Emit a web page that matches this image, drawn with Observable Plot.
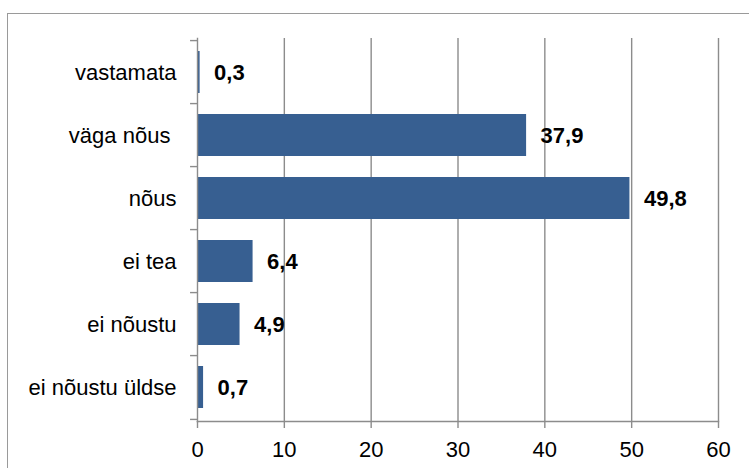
<!DOCTYPE html>
<html><head><meta charset="utf-8">
<script src="https://cdn.jsdelivr.net/npm/d3@7"></script>
<script src="https://cdn.jsdelivr.net/npm/@observablehq/plot@0.6"></script>
<style>
html,body{margin:0;padding:0;background:#fff;}
#wrap{position:relative;width:749px;height:468px;overflow:hidden;}
#chart{position:absolute;left:0;top:0;}
#border{position:absolute;left:7px;top:13px;width:800px;height:500px;border:1.5px solid #9a9a9a;box-sizing:border-box;pointer-events:none;z-index:2;}
</style></head><body>
<div id="wrap"><div id="chart"></div><div id="border"></div></div>
<script>
const categories = ["vastamata", "väga nõus\u00a0", "nõus", "ei tea", "ei nõustu", "ei nõustu üldse"];
const values = [0.3, 37.9, 49.8, 6.4, 4.9, 0.7];
const valueLabels = ["0,3", "37,9", "49,8", "6,4", "4,9", "0,7"];
const xTicks = [0, 10, 20, 30, 40, 50, 60];

const data = categories.map((c, i) => ({category: c, value: values[i], label: valueLabels[i]}));

const W = 749, H = 468, mL = 197, mR = 31, mT = 38, mB = 47;
const step = (H - mT - mB) / categories.length;
const grey = "#8c8c8c";
const FS = 22;

const chart = Plot.plot({
  width: W, height: H,
  marginLeft: mL, marginRight: mR, marginTop: mT, marginBottom: mB,
  style: {fontFamily: "'Liberation Sans', Arial, sans-serif", fontSize: FS + "px", color: "#000", background: "transparent", overflow: "visible"},
  x: {domain: [0, 60]},
  y: {domain: categories, paddingInner: 0.34, paddingOuter: 0.17},
  marks: [
    Plot.gridX(xTicks.slice(1), {stroke: grey, strokeOpacity: 1, strokeWidth: 1.4}),
    Plot.barX(data, {x: "value", y: "category", fill: "#375F91"}),
    Plot.frame({anchor: "left", stroke: grey, strokeWidth: 1.4}),
    Plot.frame({anchor: "bottom", stroke: grey, strokeWidth: 1.4}),
    Plot.ruleY(categories, {y: d => d, x1: -0.8, x2: 0, dy: -step / 2, stroke: grey, strokeWidth: 1.4}),
    Plot.ruleY(categories.slice(-1), {y: d => d, x1: -0.8, x2: 0, dy: step / 2, stroke: grey, strokeWidth: 1.4}),
    Plot.text(data, {x: "value", y: "category", text: "label", dx: 14, textAnchor: "start", fontWeight: "bold", fontSize: FS, fill: "#000"}),
    Plot.axisY({tickSize: 0, tickPadding: 21, fontSize: FS, label: null}),
    Plot.axisX({ticks: xTicks, tickSize: 7, tickPadding: 13, fontSize: FS, label: null, stroke: grey, strokeWidth: 1.4, tickFormat: d => String(d)})
  ]
});
document.getElementById("chart").appendChild(chart);
</script>
</body></html>
